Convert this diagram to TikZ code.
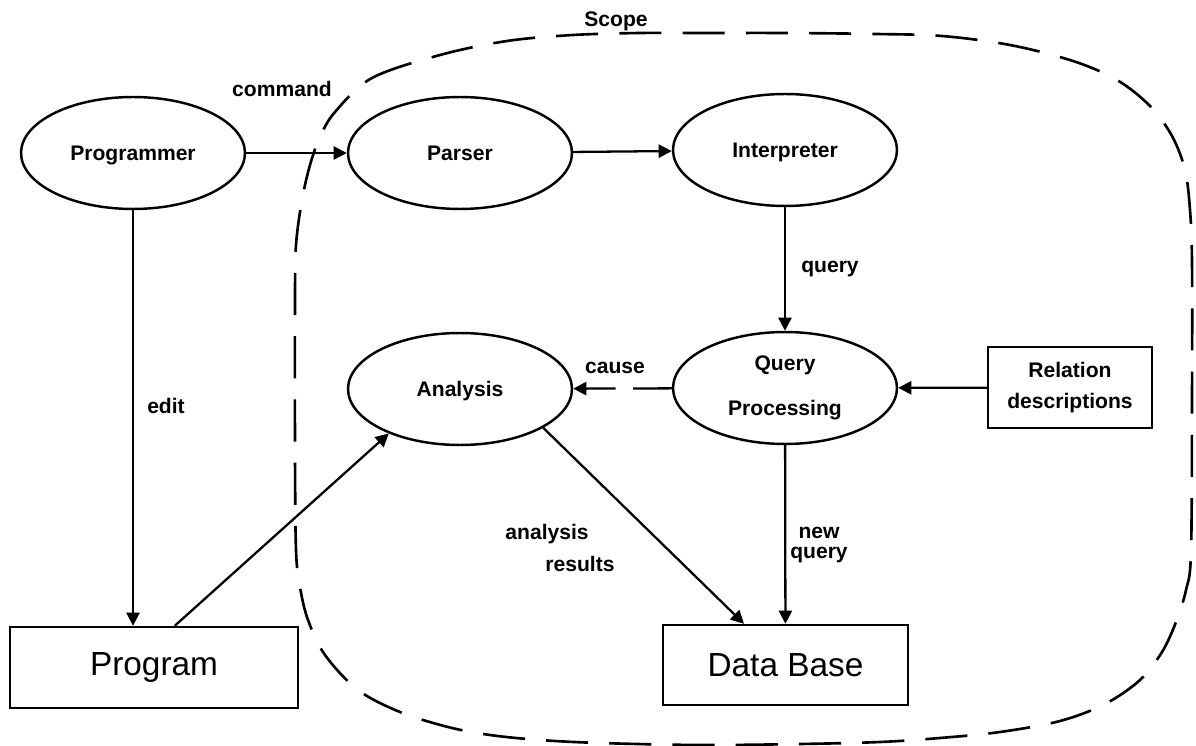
\documentclass[tikz,border=0pt]{standalone}
\usepackage{fontspec}
\setmainfont{Liberation Sans}
\usetikzlibrary{shapes.geometric,arrows.meta,calc}
\begin{document}
\begin{tikzpicture}[x=0.02cm,y=-0.02cm,
  ell/.style={draw,ellipse,line width=1.4pt,minimum width=4.48cm,minimum height=2.24cm,inner sep=0pt,font=\bfseries\fontsize{12}{14.4}\selectfont},
  bigbox/.style={draw,rectangle,line width=1.4pt,inner sep=0pt,font=\fontsize{19}{22}\selectfont},
  smallbox/.style={draw,rectangle,line width=1.4pt,inner sep=0pt,align=center,font=\bfseries\fontsize{12}{18.1}\selectfont},
  lab/.style={inner sep=0pt,font=\bfseries\fontsize{12}{14.4}\selectfont},
  conn/.style={line width=1.3pt,-{Triangle[length=7.5pt,width=7.5pt]}},
  scopeline/.style={line width=1.5pt,dash pattern=on 24pt off 12pt}]
\useasboundingbox (0,0) rectangle (1196,746);

% scope boundary
\draw[scopeline] plot[smooth cycle,tension=0.55] coordinates {
  (335,112) (372,78) (440,55) (507,41) (573,35) (640,33) (705,33) (786,33)
  (876,34) (942,36) (1010,45) (1073,61) (1117,80) (1150,106) (1172,136)
  (1185,170) (1190,210) (1192,263) (1192,400) (1191,552) (1186,590)
  (1176,622) (1162,652) (1140,680) (1105,704) (1060,721) (1000,732)
  (940,738) (880,742) (800,744) (700,745) (600,743) (540,740) (490,735)
  (448,727) (400,712) (358,690) (325,655) (308,620) (300,587) (296,550)
  (295,450) (295,300) (296,245) (302,200) (310,165) (320,137)};
\node[lab,anchor=base] (scope) at (616,27) {Scope};

% nodes
\node[ell,text depth=0pt] (programmer) at (133,153) {Programmer};
\node[ell,text depth=0pt] (parser) at (460,153) {Parser};
\node[ell,text depth=0pt] (interp) at (785,150) {Interpreter};
\node[ell,align=center,font=\bfseries\fontsize{12}{25.5}\selectfont] (qp) at (785,388) {Query\\Processing};
\node[ell,text depth=0pt] (analysis) at (460,389) {Analysis};
\node[smallbox,minimum width=3.28cm,minimum height=1.62cm] (rel) at (1070,387.5) {Relation\\descriptions};
\node[bigbox,minimum width=5.76cm,minimum height=1.62cm] (program) at (154,667.5) {Program};
\node[bigbox,minimum width=4.9cm,minimum height=1.6cm] (db) at (785.5,665) {Data Base};

% connectors
\draw[conn] (programmer) -- (parser);
\draw[conn] (parser) -- (interp);
\draw[conn] (interp) -- (qp);
\draw[conn] (rel) -- (qp);
\draw[conn,dash pattern=on 22pt off 10pt] (qp) -- (analysis);
\draw[line width=1.1pt,-{Triangle[length=7.5pt,width=7.5pt]}] (programmer.south) -- (programmer.south |- program.north);
\draw[conn] ($(program.north west)+(166,0)$) -- (analysis.212);
\draw[conn] (analysis.-25) -- ($(db.north)+(-41.5,0)$);
\draw[conn] (qp) -- (db);

% labels
\node[lab,anchor=base] (lcommand) at (282,97) {command};
\node[lab,anchor=base] (lquery) at (830,273) {query};
\node[lab,anchor=base] (lcause) at (615,373) {cause};
\node[lab,anchor=base] (ledit) at (166,413) {edit};
\node[lab,align=left,font=\bfseries\fontsize{12}{18.1}\selectfont] (lres) at (560,548) {analysis\\\hspace*{22.7pt}results};
\node[lab,align=center,font=\bfseries\fontsize{12}{11.5}\selectfont] (lnew) at (819,545) {new\\query};
\end{tikzpicture}
\end{document}
